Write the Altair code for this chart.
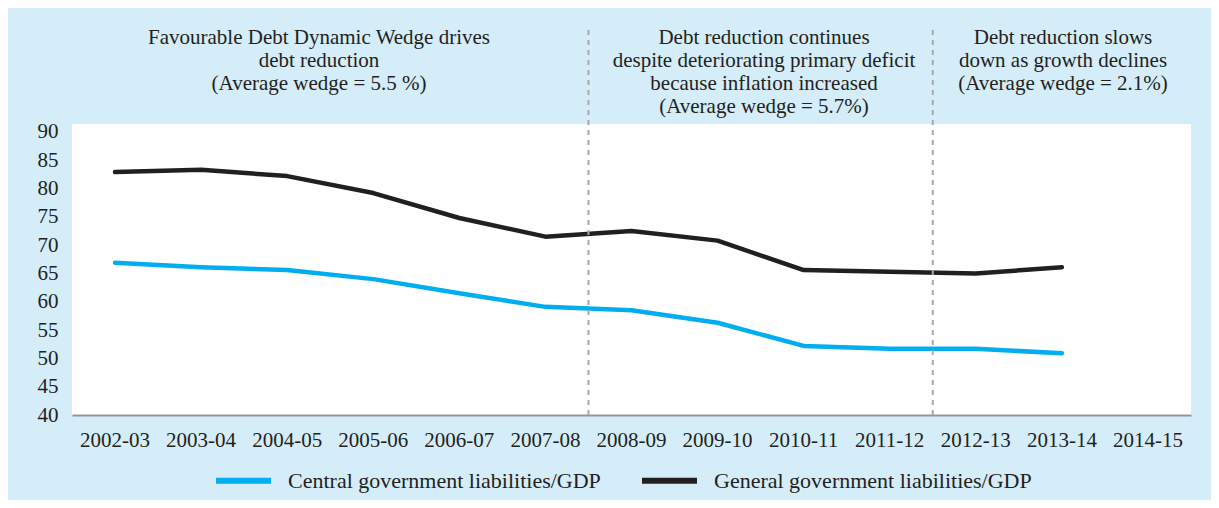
import altair as alt
import pandas as pd

periods = ["2002-03", "2003-04", "2004-05", "2005-06", "2006-07", "2007-08", "2008-09",
           "2009-10", "2010-11", "2011-12", "2012-13", "2013-14", "2014-15"]
central = [66.9, 66.1, 65.6, 64.0, 61.5, 59.1, 58.5, 56.3, 52.2, 51.7, 51.7, 50.9, None]
general = [82.9, 83.3, 82.2, 79.2, 74.8, 71.5, 72.5, 70.8, 65.6, 65.3, 65.0, 66.1, None]
series_names = ["Central government liabilities/GDP", "General government liabilities/GDP"]
series_colors = ["#00aeef", "#231f20"]
y_ticks = [40, 45, 50, 55, 60, 65, 70, 75, 80, 85, 90]
phase_starts = ["2008-09", "2012-13"]
notes = [
    "Favourable Debt Dynamic Wedge drives\ndebt reduction\n(Average wedge = 5.5 %)",
    "Debt reduction continues\ndespite deteriorating primary deficit\nbecause inflation increased\n(Average wedge = 5.7%)",
    "Debt reduction slows\ndown as growth declines\n(Average wedge = 2.1%)",
]

FONT = "Liberation Serif"
INK = "#231f20"
W, H = 1119, 291

rows = []
for name, vals in zip(series_names, [central, general]):
    for p, v in zip(periods, vals):
        if v is not None:
            rows.append({"period": p, "value": v, "series": name})
df = pd.DataFrame(rows)

xscale = alt.Scale(type="band", domain=periods, paddingInner=0, paddingOuter=0)

lines = alt.Chart(df).mark_line(strokeWidth=4.5, strokeCap="round", strokeJoin="round").encode(
    x=alt.X("period:N", scale=xscale, bandPosition=0.5,
            axis=alt.Axis(title=None, labelAngle=0, ticks=False, grid=False,
                          domainColor="#939598", domainWidth=2,
                          labelFont=FONT, labelFontSize=21, labelColor=INK, labelPadding=14)),
    y=alt.Y("value:Q", scale=alt.Scale(domain=[40, 91.4], nice=False, zero=False),
            axis=alt.Axis(values=y_ticks, title=None, domain=False, ticks=False, grid=False,
                          labelFont=FONT, labelFontSize=21, labelColor=INK, labelPadding=14)),
    color=alt.Color("series:N", scale=alt.Scale(domain=series_names, range=series_colors),
                    legend=alt.Legend(title=None, orient="none", legendX=141, legendY=326,
                                      direction="horizontal", symbolType="stroke",
                                      symbolSize=3025, symbolStrokeWidth=6,
                                      labelFont=FONT, labelFontSize=22, labelColor=INK,
                                      labelLimit=0, labelOffset=14, columnPadding=29)),
)

rules = alt.Chart(pd.DataFrame({"period": phase_starts})).mark_rule(
    color="#a7a9ac", strokeWidth=2, strokeDash=[5, 5]
).encode(
    x=alt.X("period:N", scale=xscale, bandPosition=0),
    y=alt.value(-94),
    y2=alt.value(H),
)

note_x = [247, 692, 991]
texts = []
for n, xv in zip(notes, note_x):
    texts.append(
        alt.Chart(pd.DataFrame({"note": [n]})).mark_text(
            align="center", baseline="alphabetic", lineBreak="\n", lineHeight=23,
            font=FONT, fontSize=21, color=INK
        ).encode(x=alt.value(xv), y=alt.value(-80), text="note:N")
    )

chart = alt.layer(lines, rules, *texts).properties(
    width=W, height=H,
    autosize=alt.AutoSizeParams(type="none"),
    padding={"left": 64, "top": 116, "right": 20, "bottom": 85},
    background="#d5ecf9",
).configure_view(fill="white", stroke=None)

chart.save("out.html", embed_options={"renderer": "svg", "actions": False})
